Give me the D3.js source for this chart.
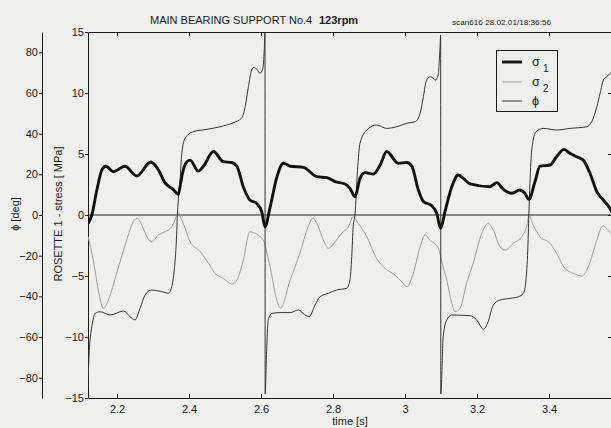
<!DOCTYPE html>
<html><head><meta charset="utf-8">
<script src="https://cdn.jsdelivr.net/npm/d3@7"></script>
<style>
html,body{margin:0;padding:0;background:#efefed;}
svg{display:block;font-family:"Liberation Sans",Arial,sans-serif;}
</style></head><body>
<svg id="c" width="611" height="428"></svg>
<script>
// ---- data ----
const timeTicks = [2.2, 2.4, 2.6, 2.8, 3, 3.2, 3.4];
const stressTicks = [-15, -10, -5, 0, 5, 10, 15];
const phiTicks = [-80, -60, -40, -20, 0, 20, 40, 60, 80];

const sigma1Time = [2.120,2.130,2.144,2.158,2.169,2.190,2.222,2.255,2.294,2.315,2.333,2.356,2.370,2.375,2.381,2.394,2.403,2.426,2.440,2.468,2.495,2.519,2.533,2.551,2.569,2.588,2.602,2.611,2.625,2.644,2.662,2.681,2.718,2.755,2.783,2.806,2.833,2.847,2.861,2.875,2.889,2.912,2.931,2.949,2.981,3.005,3.019,3.037,3.051,3.074,3.088,3.099,3.111,3.130,3.148,3.162,3.181,3.236,3.255,3.273,3.296,3.319,3.333,3.344,3.361,3.375,3.403,3.421,3.442,3.458,3.477,3.495,3.514,3.533,3.551,3.572,3.586];
const sigma1 = [-0.68,0,2.05,3.7,4.0,3.55,4.0,3.2,4.35,3.7,2.65,2.1,1.7,2.3,3.3,4.37,4.5,3.6,4.0,5.2,4.37,4.3,4.0,2.3,1.23,0.95,0.27,-0.96,0.6,3.1,4.24,4.0,3.9,3.14,3.06,2.73,2.54,2.19,1.5,3.0,3.47,3.36,4.1,5.2,4.24,4.3,4.0,2.05,1.1,0.77,0.14,-1.1,0.27,2.32,3.28,3.0,2.55,2.32,2.65,2.1,1.78,2.05,1.78,1.29,2.73,4.0,4.1,4.78,5.38,5.06,4.78,4.5,3.4,1.9,1.23,0.4,-0.5];

const sigma2Time = [2.120,2.134,2.148,2.162,2.176,2.199,2.227,2.245,2.256,2.269,2.283,2.296,2.315,2.333,2.352,2.361,2.370,2.378,2.384,2.403,2.431,2.454,2.472,2.495,2.519,2.533,2.551,2.569,2.583,2.606,2.625,2.644,2.654,2.681,2.708,2.731,2.744,2.759,2.773,2.787,2.806,2.824,2.843,2.856,2.870,2.894,2.921,2.944,2.972,2.991,3.005,3.023,3.042,3.056,3.069,3.093,3.102,3.116,3.130,3.139,3.153,3.171,3.190,3.213,3.231,3.245,3.264,3.278,3.301,3.324,3.340,3.344,3.356,3.375,3.403,3.421,3.444,3.468,3.491,3.509,3.533,3.549,3.572,3.586];
const sigma2 = [-1.78,-3.69,-6.15,-7.65,-6.97,-4.78,-2.05,-0.55,-0.27,-0.82,-1.78,-2.19,-1.64,-1.37,-0.96,-0.4,0.2,-0.3,-0.68,-2.19,-3.0,-3.96,-4.78,-5.19,-5.66,-5.33,-3.69,-1.37,-1.5,-2.05,-4.24,-6.97,-7.65,-5.33,-3.14,-0.96,-0.27,-0.96,-2.05,-2.73,-2.19,-1.5,-0.96,-0.14,-0.68,-1.78,-3.55,-4.37,-4.92,-5.47,-5.88,-4.78,-2.6,-1.64,-2.05,-2.73,-3.83,-5.33,-7.24,-7.92,-7.65,-5.6,-3.9,-1.5,-0.68,-1.23,-2.6,-2.87,-2.32,-1.78,-0.68,0,-0.82,-1.78,-2.32,-3.14,-4.37,-4.78,-5.0,-4.24,-2.05,-0.9,-1.5,-2.0];

const phiTime = [2.119,2.122,2.126,2.130,2.139,2.153,2.181,2.218,2.236,2.250,2.264,2.278,2.296,2.324,2.343,2.352,2.359,2.364,2.368,2.375,2.380,2.389,2.412,2.449,2.486,2.523,2.546,2.556,2.565,2.574,2.581,2.589,2.597,2.605,2.609,2.611,2.6115,2.615,2.620,2.630,2.653,2.681,2.704,2.722,2.734,2.750,2.764,2.787,2.810,2.838,2.847,2.852,2.856,2.861,2.868,2.875,2.894,2.921,2.949,2.977,3.005,3.028,3.042,3.051,3.060,3.071,3.085,3.093,3.095,3.097,3.099,3.0995,3.102,3.106,3.116,3.130,3.181,3.199,3.218,3.231,3.245,3.264,3.292,3.315,3.329,3.336,3.341,3.344,3.347,3.352,3.364,3.384,3.421,3.458,3.505,3.523,3.533,3.542,3.551,3.560,3.572,3.586];
const phi = [-85,-70,-60,-55,-48.4,-47.6,-49.2,-47.2,-50,-51.6,-45.9,-39.3,-36.9,-37.7,-38.5,-35.3,-27,-15.6,0.8,17.2,30.3,37.7,41,42.1,43.4,45.4,47.6,53.3,63.1,71.3,72.6,71.5,69.7,72.1,81.2,89.5,-88,-70,-51.6,-48.4,-48,-48,-46.7,-49.2,-50,-44.3,-40.2,-38.5,-36.9,-36,-32,-20.5,-5.7,0,22,35.3,41.8,44.3,42.6,43.4,45.1,45.9,50,58.2,66.4,68,66.4,69.7,75.4,81.2,88.5,-88,-79.5,-59.9,-51.6,-49.2,-49.5,-51.6,-56.2,-52.5,-44.3,-41.8,-41,-40.2,-38.5,-32,-17.2,0,15.6,32,41,42.6,41.8,42.6,43.4,47.6,53.3,60,66.4,68,70,72];

// ---- layout ----
const L = 88, R = 613, T = 32, B = 398;
const svg = d3.select("#c");
const x = d3.scaleLinear().domain([2.1194, 2.1194 + (R - L) / 360]).range([L, R]);
const yS = d3.scaleLinear().domain([-15, 15]).range([B, T]);
const yP = d3.scaleLinear().domain([-90, 90]).range([B, T]);

svg.append("defs").append("clipPath").attr("id","clip")
  .append("rect").attr("x",L).attr("y",T).attr("width",R-L).attr("height",B-T);

const ink = "#1a1a1a";
function styleAxis(g){
  g.selectAll("path,line").attr("stroke", ink).attr("stroke-width",1);
  g.selectAll("text").attr("fill", ink).attr("font-size", 11).attr("font-family","Liberation Sans, Arial, sans-serif");
}

// bottom axis
svg.append("g").attr("transform",`translate(0,${B})`)
  .call(d3.axisBottom(x).tickValues(timeTicks).tickFormat(d3.format("~g")).tickSizeInner(-4).tickSizeOuter(0).tickPadding(7))
  .call(styleAxis);
// top axis
svg.append("g").attr("transform",`translate(0,${T})`)
  .call(d3.axisTop(x).tickValues(timeTicks).tickFormat("").tickSizeInner(-4).tickSizeOuter(0))
  .call(styleAxis);
// left stress axis
svg.append("g").attr("transform",`translate(${L},0)`)
  .call(d3.axisLeft(yS).tickValues(stressTicks).tickSizeInner(3).tickSizeOuter(0).tickPadding(1))
  .call(styleAxis);
// right stress axis (frame)
svg.append("g").attr("transform",`translate(${R},0)`)
  .call(d3.axisRight(yS).tickValues(stressTicks).tickFormat("").tickSizeInner(-5).tickSizeOuter(0))
  .call(styleAxis);
// phi axis
svg.append("g").attr("transform",`translate(42,0)`)
  .call(d3.axisLeft(yP).tickValues(phiTicks).tickSizeInner(3).tickSizeOuter(0).tickPadding(1))
  .call(styleAxis);

// zero line
svg.append("line").attr("x1",L).attr("x2",R).attr("y1",yS(0)).attr("y2",yS(0))
  .attr("stroke","#222").attr("stroke-width",1);

const plot = svg.append("g").attr("clip-path","url(#clip)");
const mk = (ts, vs) => ts.map((t,i)=>({t, v: vs[i]}));
const lineS = d3.line().x(d=>x(d.t)).y(d=>yS(d.v)).curve(d3.curveMonotoneX);
const lineP = d3.line().x(d=>x(d.t)).y(d=>yP(d.v)).curve(d3.curveMonotoneX);

plot.append("path").datum(mk(sigma2Time, sigma2)).attr("d", lineS)
  .attr("fill","none").attr("stroke","#9c9c9c").attr("stroke-width",1);
plot.append("path").datum(mk(phiTime, phi)).attr("d", lineP)
  .attr("fill","none").attr("stroke","#333").attr("stroke-width",1);
plot.append("path").datum(mk(sigma1Time, sigma1)).attr("d", lineS)
  .attr("fill","none").attr("stroke","#111").attr("stroke-width",2.9).attr("stroke-linejoin","round");

// titles
const title = svg.append("text").attr("x",150).attr("y",24).attr("font-size",11).attr("fill",ink);
title.append("tspan").text("MAIN BEARING SUPPORT No.4");
title.append("tspan").attr("x",319).attr("font-weight","bold").text("123rpm");
svg.append("text").attr("x",452).attr("y",25).attr("font-size",8).attr("fill",ink)
  .attr("textLength",99).attr("lengthAdjust","spacingAndGlyphs")
  .text("scan616  28.02.01/18:36:56");

// axis titles
svg.append("text").attr("transform","translate(19,214) rotate(-90)").attr("text-anchor","middle")
  .attr("font-size",11).attr("fill",ink).text("ϕ [deg]");
svg.append("text").attr("transform","translate(62,214) rotate(-90)").attr("text-anchor","middle")
  .attr("font-size",11).attr("fill",ink).text("ROSETTE 1 - stress [ MPa]");
svg.append("text").attr("x",350).attr("y",425).attr("text-anchor","middle")
  .attr("font-size",11).attr("fill",ink).text("time [s]");

// legend
const legendItems = [
  {label:"σ", sub:"1", color:"#111", w:2.9},
  {label:"σ", sub:"2", color:"#9c9c9c", w:1},
  {label:"ϕ", sub:"", color:"#333", w:1}
];
const lg = svg.append("g");
lg.append("rect").attr("x",496.5).attr("y",50.5).attr("width",61).attr("height",61)
  .attr("fill","none").attr("stroke",ink).attr("stroke-width",1);
const rowY = [62, 82, 101];
legendItems.forEach((d,i)=>{
  lg.append("line").attr("x1",502).attr("x2",522).attr("y1",rowY[i]).attr("y2",rowY[i])
    .attr("stroke",d.color).attr("stroke-width",d.w);
  lg.append("text").attr("x",532).attr("y",rowY[i]+4).attr("font-size",12.5).attr("fill",ink).text(d.label);
  if (d.sub) lg.append("text").attr("x",543).attr("y",rowY[i]+10).attr("font-size",10).attr("fill",ink).text(d.sub);
});
</script>
</body></html>
